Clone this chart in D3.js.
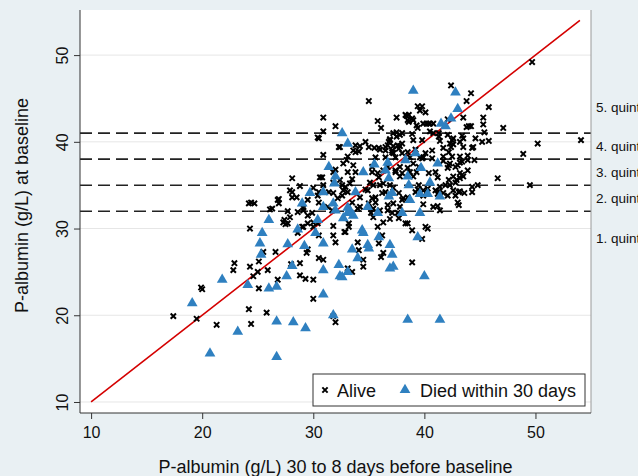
<!DOCTYPE html>
<html>
<head>
<meta charset="utf-8">
<script src="https://cdn.jsdelivr.net/npm/d3@7"></script>
<style>
	body { margin: 0; background: #e9f0f3; }
	svg { display: block; font-family: "Liberation Sans", Arial, sans-serif; }
</style>
</head>
<body>
<svg id="chart" width="638" height="476"></svg>
<script>
// P-albumin 30-8 days before baseline (x) vs at baseline (y)
const alive = [
	[17.4,19.9],[19.5,19.6],[19.9,23.2],[20.0,23.0],[21.3,18.9],[22.9,26.0],[22.8,25.2],[24.2,20.7],
	[24.4,19.0],[24.3,25.6],[24.6,24.5],[25.0,25.0],[25.1,23.1],[25.1,26.2],[25.9,25.2],[25.8,20.3],
	[25.5,27.3],[24.3,30.0],[24.2,32.9],[24.7,32.9],[26.6,27.3],[26.8,24.1],[26.8,33.3],[26.9,32.9],
	[26.3,32.3],[27.4,31.0],[27.7,32.0],[28.0,25.9],[28.8,24.6],[29.3,24.2],[30.0,24.1],[30.0,21.9],
	[28.8,26.0],[29.5,27.6],[29.4,27.2],[30.5,26.6],[30.9,26.4],[29.1,30.2],[29.5,30.6],[30.0,30.7],
	[30.4,30.6],[30.5,29.2],[31.8,29.2],[32.0,28.4],[32.9,29.6],[33.2,30.6],[33.1,25.4],[33.5,25.0],
	[29.1,32.1],[29.5,31.5],[29.9,31.8],[27.7,30.6],[31.8,19.9],[32.0,19.2],[34.0,28.4],
	[30.9,42.8],[30.5,40.4],[30.9,41.2],[32.0,41.8],[35.0,44.7],[35.8,42.4],[36.1,41.6],[37.5,42.8],
	[37.2,41.0],[30.9,38.5],[32.4,39.4],[33.1,38.3],[33.0,37.9],[33.6,39.0],[33.8,39.6],[34.2,39.5],
	[34.7,40.0],[34.1,38.9],[35.0,39.4],[35.5,39.3],[35.9,39.3],[35.6,38.2],[28.1,35.8],[28.8,34.9],
	[27.9,34.4],[28.1,33.6],[30.6,35.9],[30.9,35.0],[32.0,36.8],[32.4,35.6],[32.9,34.8],[33.3,35.2],
	[33.8,36.5],[35.3,36.5],[35.9,35.9],[36.3,35.2],[36.9,35.0],[37.4,36.7],[37.6,39.6],[37.1,39.0],
	[37.4,38.2],[36.8,40.0],[36.5,39.4],[35.6,33.6],[36.2,34.1],[34.7,34.5],[35.3,33.5],[32.6,35.0],
	[42.4,46.5],[44.2,45.6],[43.8,44.7],[45.8,44.0],[45.3,42.8],[45.3,42.0],[44.0,41.8],[43.8,41.7],
	[44.2,41.8],[43.5,42.8],[47.1,41.6],[45.4,41.1],[45.8,40.1],[45.2,40.0],[44.6,40.4],[43.4,40.7],
	[43.2,40.0],[44.3,39.3],[43.9,37.9],[43.2,38.3],[42.5,38.3],[42.2,38.8],[42.3,39.8],[42.6,40.4],
	[42.1,40.8],[41.4,40.1],[41.3,40.6],[40.5,41.2],[40.5,42.1],[39.9,42.1],[40.2,42.1],[39.6,43.6],
	[39.4,44.1],[39.8,44.1],[40.1,43.4],[38.6,43.1],[38.3,43.1],[38.9,42.7],[39.0,42.5],[38.6,42.3],
	[39.4,41.6],[37.5,41.1],[38.0,41.0],[38.9,40.9],[39.0,40.2],[39.8,40.2],[40.8,41.0],[41.3,41.0],
	[42.5,40.2],[42.6,39.7],[42.4,39.4],[36.9,40.2],[36.7,39.6],[37.2,39.5],[37.8,39.5],[38.0,38.7],
	[37.1,38.8],[36.5,38.2],[39.9,38.2],[40.1,38.7],[40.7,39.0],[41.7,38.3],[41.7,37.8],[42.2,37.3],
	[42.8,37.1],[43.2,37.6],[50.2,39.8],[48.9,38.6],[46.6,35.8],[49.5,35.0],[44.8,35.0],[44.3,34.8],
	[43.5,36.0],[43.2,35.8],[42.6,36.0],[42.9,35.6],[42.2,35.6],[41.9,35.0],[41.4,34.8],[41.0,34.4],
	[40.3,34.6],[39.5,35.0],[39.4,34.5],[41.3,34.3],[42.1,33.8],[43.2,34.3],[36.7,37.1],[37.4,36.5],
	[37.8,37.1],[37.8,36.0],[39.0,37.5],[39.8,38.1],[39.0,36.0],[39.3,36.5],
	[43.1,32.7],[40.1,30.2],[38.3,30.6],[39.9,32.8],[42.6,34.4],[43.4,36.2],[44.4,39.4],[44.5,37.9],
	[43.4,37.7],[43.9,38.4],[49.7,49.2],[54.1,40.2],
	[33.2,30.2],[32.8,29.6],[34.1,27.5],[34.5,26.4],[34.5,25.6],[35.8,30.2],[36.2,29.2],[35.9,28.3],
	[36.3,27.2],[36.1,26.7],[35.2,31.8],[35.4,31.3],[36.3,30.7],[36.9,31.1],[37.1,31.8],[37.7,31.2],
	[38.5,30.6],[38.9,29.8],[39.8,28.8],[40.3,30.0],[38.9,26.1],[41.2,32.6],[36.7,32.7],[35.4,32.3],
	[35.0,32.9],[37.2,32.9],[37.8,32.5],[38.1,33.5],[39.9,33.8],[41.2,34.0],[42.8,33.8],[43.1,34.2],
	[44.3,34.2],[28.5,33.6],[28.1,34.2],[29.5,33.3],[30.4,33.8],[30.5,33.0],[31.4,34.2],[31.8,34.1],
	[32.6,33.8],[33.1,34.2],[34.0,32.3],[33.5,33.0],[26.9,33.4],[27.5,30.5],[27.9,31.3],[28.6,31.9],
	[29.1,32.4],[30.4,40.5],[30.8,35.9],[31.8,35.3],[32.3,39.4],[24.4,33.0],[26.1,32.2],[27.3,30.7],
	[28.6,29.5],[29.0,30.2],[30.0,30.2],[31.8,30.3],
	[38.4,43.0],[38.5,42.5],[39.3,41.9],[40.4,42.1],[40.8,42.1],[42.1,42.6],[33.8,38.8],[36.0,39.1],
	[36.9,40.3],[37.5,40.6],[37.8,40.8],[38.0,39.8],[37.7,39.2],[36.5,39.0],[37.2,38.7],[38.5,38.8],
	[38.7,38.2],[39.2,39.1],[39.6,38.2],[40.7,38.1],[41.7,39.3],[43.5,40.4],[43.5,39.4],[32.7,37.5],
	[33.6,37.3],[31.8,36.5],[33.1,36.5],[33.5,35.7],[35.3,37.1],[35.8,36.4],[36.3,36.7],[35.1,35.3],
	[35.4,35.0],[36.0,35.0],[38.0,36.4],[38.5,37.0],[38.7,36.5],[39.5,37.1],[40.4,36.4],[41.0,36.5],
	[41.2,35.9],[42.1,37.0],[42.3,37.5],[43.0,37.3],[43.2,36.4],[43.9,36.7],[30.0,34.7],[30.5,34.2],
	[32.7,34.4],[32.2,33.5],[34.2,33.6],[34.9,34.4],[35.6,33.0],[36.5,34.2],[36.9,33.8],[37.2,34.7],
	[37.7,34.1],[38.0,33.3],[38.5,33.6],[39.2,34.2],[39.9,34.4],[41.7,34.1],[42.3,35.0],[42.8,35.3],
	[43.6,34.1],[31.3,32.5],[31.7,32.1],[34.2,32.5],[36.0,32.1],[36.7,32.1],[37.6,31.8],[40.8,32.5],
	[41.4,32.1],[43.0,33.0]
];

const died = [
	[19.1,21.4],[20.7,15.6],[21.8,24.1],[23.2,18.1],[26.7,15.2],[26.7,19.3],[28.2,19.2],[38.5,19.5],
	[41.4,19.5],[39.0,45.9],[42.8,45.7],[43.0,43.8],[41.5,42.1],[42.4,42.7],[41.9,41.8],[32.6,41.0],
	[33.1,39.8],[31.4,37.1],[32.0,36.0],[31.9,35.2],[29.7,34.1],[30.9,34.2],[34.5,36.5],[35.5,37.4],
	[36.7,37.6],[36.8,35.8],[33.8,34.2],[38.3,37.9],[39.2,38.7],[41.2,37.5],[39.7,37.0],[38.5,36.0],
	[40.5,35.3],[38.6,35.0],[39.6,34.0],[40.3,34.0],[41.4,33.7],[36.5,36.7],
	[26.0,31.0],[25.4,29.5],[25.2,28.3],[25.3,27.0],[24.1,23.5],[26.0,23.1],[26.7,23.3],[29.3,18.5],
	[27.6,24.5],[28.1,25.7],[27.7,28.2],[28.6,29.9],[29.2,28.0],[29.0,32.9],[30.2,29.5],[30.4,31.0],
	[30.9,28.3],[30.9,32.5],[30.9,25.2],[30.9,22.4],[31.8,20.0],[32.3,25.8],[32.4,24.5],[31.8,32.9],
	[32.0,32.1],[32.7,31.2],[33.1,31.8],[33.5,27.6],[34.0,26.6],[33.3,32.1],
	[33.1,25.0],[32.6,24.4],[34.5,29.5],[34.9,28.1],[35.0,27.7],[35.9,29.0],[36.9,28.1],[37.1,27.0],
	[36.9,25.4],[37.2,25.6],[39.4,29.0],[40.0,24.5],[34.4,29.8],[33.1,32.4],[33.6,31.5],[34.9,32.5],
	[35.8,31.8],[38.0,31.8],[38.7,33.3],[39.6,31.8],[36.8,33.7],[37.1,34.1]
];

const xTicks = [10, 20, 30, 40, 50];
const yTicks = [10, 20, 30, 40, 50];
const cutoffs = [32, 35, 38, 41];
const quintLabels = ["1. quintile", "2. quintile", "3. quintile", "4. quintile", "5. quintile"];
const quintPos = [28.9, 33.5, 36.5, 39.5, 44.0];
const identity = [10, 54];

const svg = d3.select("#chart");
const pLeft = 80, pRight = 591, pTop = 10, pBottom = 413;

const x = d3.scaleLinear().domain([9, 55]).range([pLeft, pRight]);
const y = d3.scaleLinear().domain([8.73, 55.2]).range([pBottom, pTop]);

// plot region
svg.append("rect")
	.attr("x", pLeft).attr("y", pTop)
	.attr("width", pRight - pLeft).attr("height", pBottom - pTop)
	.attr("fill", "#fff");

// gridlines
svg.append("g").selectAll("line")
	.data(yTicks)
	.enter().append("line")
	.attr("x1", pLeft).attr("x2", pRight)
	.attr("y1", d => y(d)).attr("y2", d => y(d))
	.attr("stroke", "#e6e6e6").attr("stroke-width", 1);

// quintile cutoffs
svg.append("g").selectAll("line")
	.data(cutoffs)
	.enter().append("line")
	.attr("x1", pLeft).attr("x2", pRight)
	.attr("y1", d => y(d)).attr("y2", d => y(d))
	.attr("stroke", "#222").attr("stroke-width", 1.6)
	.attr("stroke-dasharray", "12,6");

// right border
svg.append("line")
	.attr("x1", pRight).attr("x2", pRight).attr("y1", pTop).attr("y2", pBottom)
	.attr("stroke", "#999").attr("stroke-width", 1);

// axes
const xAxis = svg.append("g")
	.attr("transform", `translate(0,${pBottom})`)
	.call(d3.axisBottom(x).tickValues(xTicks).tickSize(6).tickPadding(8));
const yAxis = svg.append("g")
	.attr("transform", `translate(${pLeft},0)`)
	.call(d3.axisLeft(y).tickValues(yTicks).tickSize(6).tickPadding(4));

[xAxis, yAxis].forEach(a => {
	a.select(".domain").remove();
	a.selectAll(".tick line").attr("stroke", "#333");
	a.selectAll("text").attr("font-size", 16).attr("fill", "#111")
		.attr("font-family", "Liberation Sans, Arial, sans-serif");
});
svg.append("line").attr("x1", pLeft).attr("x2", pRight).attr("y1", pBottom).attr("y2", pBottom).attr("stroke", "#333");
svg.append("line").attr("x1", pLeft).attr("x2", pLeft).attr("y1", pTop).attr("y2", pBottom).attr("stroke", "#333");

yAxis.selectAll(".tick text")
	.attr("x", null).attr("dy", null)
	.attr("text-anchor", "middle")
	.attr("transform", "translate(-12,0) rotate(-90)");

// identity line
svg.append("line")
	.attr("x1", x(identity[0])).attr("y1", y(identity[0]))
	.attr("x2", x(identity[1])).attr("y2", y(identity[1]))
	.attr("stroke", "#d40000").attr("stroke-width", 1.6);

// alive markers
const cross = d3.symbol().type(d3.symbolX).size(20);
svg.append("g").selectAll("path")
	.data(alive)
	.enter().append("path")
	.attr("d", cross)
	.attr("transform", d => `translate(${x(d[0])},${y(d[1])})`)
	.attr("fill", "none").attr("stroke", "#000").attr("stroke-width", 2);

// died markers
const tri = d3.symbol().type(d3.symbolTriangle).size(50);
svg.append("g").selectAll("path")
	.data(died)
	.enter().append("path")
	.attr("d", tri)
	.attr("transform", d => `translate(${x(d[0])},${y(d[1])})`)
	.attr("fill", "#2f80c0");

// quintile labels
svg.append("g").selectAll("text")
	.data(quintLabels)
	.enter().append("text")
	.attr("x", pRight + 5)
	.attr("y", (d, i) => y(quintPos[i]))
	.attr("dy", "0.35em")
	.attr("font-size", 13.5).attr("fill", "#111")
	.text(d => d);

// axis titles
svg.append("text")
	.attr("x", (pLeft + pRight) / 2).attr("y", 473)
	.attr("text-anchor", "middle").attr("font-size", 18).attr("fill", "#111")
	.text("P-albumin (g/L) 30 to 8 days before baseline");
svg.append("text")
	.attr("transform", `translate(28,${(pTop + pBottom) / 2 - 6}) rotate(-90)`)
	.attr("text-anchor", "middle").attr("font-size", 18).attr("fill", "#111")
	.text("P-albumin (g/L) at baseline");

// legend
const lg = svg.append("g").attr("transform", "translate(313,374)");
lg.append("rect").attr("width", 272).attr("height", 32)
	.attr("fill", "#fff").attr("stroke", "#333").attr("stroke-width", 1);
lg.append("path").attr("d", cross).attr("transform", "translate(12,16)")
	.attr("fill", "none").attr("stroke", "#000").attr("stroke-width", 2);
lg.append("text").attr("x", 24).attr("y", 23).attr("font-size", 18).attr("fill", "#111").text("Alive");
lg.append("path").attr("d", tri).attr("transform", "translate(92,16)").attr("fill", "#2f80c0");
lg.append("text").attr("x", 107).attr("y", 23).attr("font-size", 18).attr("fill", "#111").text("Died within 30 days");
</script>
</body>
</html>
